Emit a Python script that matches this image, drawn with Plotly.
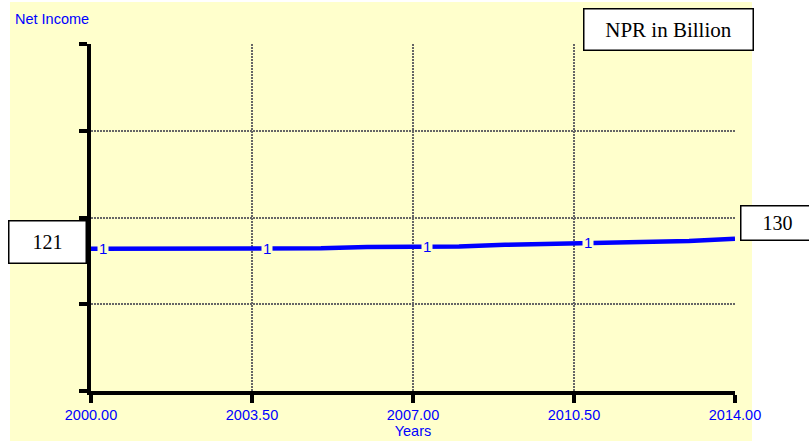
import numpy as np
import plotly.graph_objects as go

years = [2000, 2001, 2002, 2003, 2004, 2005, 2006, 2007, 2008, 2009, 2010, 2011, 2012, 2013, 2014]
net_income = [121, 121, 121, 121, 121, 121.3, 122.5, 122.7, 123, 124.5, 125.2, 126.5, 126.8, 127.8, 130]

x_ticks = [2000, 2003.5, 2007, 2010.5, 2014]
y_ticks = [-7, 71, 149, 227, 305]
marker_x = [2000.25, 2003.82, 2007.3, 2010.8]

blue = "#0000FF"
yellow = "#FFFFCC"
sans = "Liberation Sans, Arial"
serif = "Liberation Serif, Times New Roman"
W, H = 809, 441
L, R, T, B = 91, 74, 44, 50
pw, ph = W - L - R, H - T - B


def px(x):
    return (x - L) / pw


def py(y):
    return (H - B - y) / ph


fig = go.Figure()

fig.add_trace(go.Scatter(
    x=years, y=net_income, mode="lines",
    line=dict(color=blue, width=4.5), hoverinfo="skip", showlegend=False
))

marker_y = np.interp(marker_x, years, net_income)
for mx, my in zip(marker_x, marker_y):
    fig.add_annotation(x=mx, y=my, text="1", showarrow=False,
                       font=dict(family=sans, size=15, color=blue),
                       bgcolor=yellow, borderpad=1)

# yellow panel behind the chart
fig.add_shape(type="rect", xref="paper", yref="paper",
              x0=px(10), x1=px(752), y0=py(441), y1=py(2),
              fillcolor=yellow, line=dict(width=0), layer="below")

fig.add_annotation(xref="paper", yref="paper", x=px(13), y=py(19),
                   xanchor="left", yanchor="middle", text="Net Income", showarrow=False,
                   font=dict(family=sans, size=14.5, color=blue))

fig.add_annotation(xref="paper", yref="paper", x=px(668), y=py(30),
                   xanchor="center", yanchor="middle", text="NPR in Billion", showarrow=False,
                   width=166, height=38, bgcolor="white", bordercolor="black", borderwidth=1.5,
                   font=dict(family=serif, size=21, color="black"))

fig.add_annotation(xref="paper", yref="paper", x=px(47), y=py(242.5),
                   xanchor="center", yanchor="middle", text="121", showarrow=False,
                   width=74, height=39, bgcolor="white", bordercolor="black", borderwidth=1.5,
                   font=dict(family=serif, size=20, color="black"))

fig.add_annotation(xref="paper", yref="paper", x=px(777), y=py(222.5),
                   xanchor="center", yanchor="middle", text="130", showarrow=False,
                   width=70, height=31, bgcolor="white", bordercolor="black", borderwidth=1.5,
                   font=dict(family=serif, size=20, color="black"))

fig.update_layout(
    width=W, height=H,
    margin=dict(l=L, r=R, t=T, b=B),
    paper_bgcolor="white",
    plot_bgcolor=yellow,
    xaxis=dict(
        range=[2000, 2014], tickvals=x_ticks, tickformat=".2f", automargin=False,
        showline=True, linecolor="black", linewidth=4,
        ticks="outside", ticklen=8, tickwidth=4, tickcolor="black",
        showgrid=True, gridcolor="#666666", griddash="2px,1px", gridwidth=1.5,
        zeroline=False,
        tickfont=dict(family=sans, size=14.5, color=blue),
        title=dict(text="Years", standoff=0,
                   font=dict(family=sans, size=14.5, color=blue)),
    ),
    yaxis=dict(
        range=[-7, 305], tickvals=y_ticks, showticklabels=False, automargin=False,
        showline=True, linecolor="black", linewidth=4,
        ticks="outside", ticklen=8, tickwidth=4, tickcolor="black",
        showgrid=True, gridcolor="#666666", griddash="2px,1px", gridwidth=1.5,
        zeroline=False,
    ),
)

fig.write_html("out.html", config={"displayModeBar": False},
               post_script="document.body.style.margin='0px';")
